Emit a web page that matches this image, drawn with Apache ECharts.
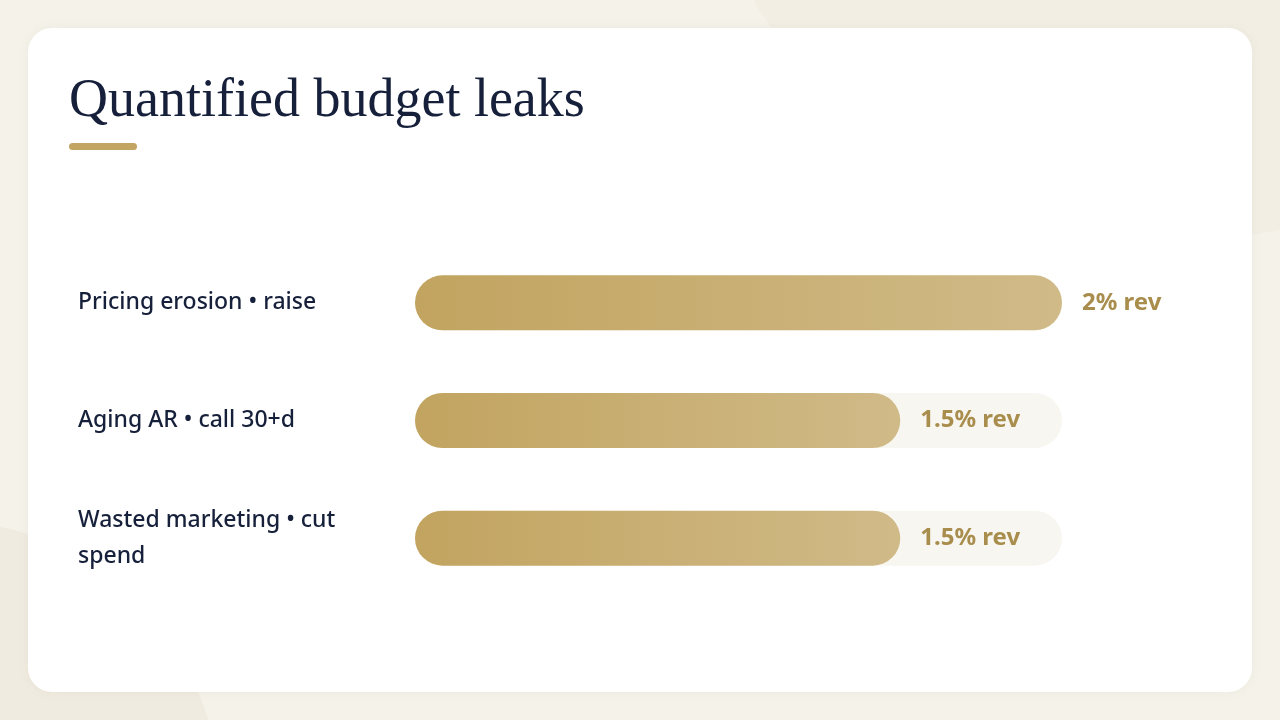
<!DOCTYPE html>
<html>
<head>
<meta charset="utf-8">
<title>Quantified budget leaks</title>
<script src="https://cdn.jsdelivr.net/npm/echarts@6/dist/echarts.min.js"></script>
<style>
    html, body { margin: 0; padding: 0; background: #f5f2ea; }
    #chart { width: 1280px; height: 720px; }
</style>
</head>
<body>
<div id="chart"></div>
<script>
    // data
    var categories = ['Pricing erosion • raise', 'Aging AR • call 30+d', 'Wasted marketing • cut spend'];
    var leakValues = [2, 1.5, 1.5];
    var valueLabels = ['2% rev', '1.5% rev', '1.5% rev'];
    var axisMax = 2;

    var myChart = echarts.init(document.getElementById('chart'));

    var option = {
        backgroundColor: '#f5f2ea',
        animation: false,
        graphic: [
            // soft background blobs
            { type: 'circle', z: -30, shape: { cx: 1180, cy: -260, r: 500 }, style: { fill: '#f2eee4' } },
            { type: 'circle', z: -30, shape: { cx: -60, cy: 800, r: 280 }, style: { fill: '#f0ebe0' } },
            // white card
            {
                type: 'rect', z: -20,
                shape: { x: 28, y: 28, width: 1224, height: 664, r: 24 },
                style: { fill: '#ffffff', shadowBlur: 12, shadowColor: 'rgba(120,100,60,0.06)' }
            },
            {
                type: 'text', z: -10, left: 69, top: 75,
                style: {
                    text: 'Quantified budget leaks',
                    fill: '#16203a',
                    font: '54px "Liberation Serif", "DejaVu Serif", serif'
                }
            },
            // gold rule under the title
            {
                type: 'rect', z: -10,
                shape: { x: 69, y: 143, width: 68, height: 7, r: 3.5 },
                style: { fill: '#c2a562' }
            }
        ],
        grid: {
            left: 415,
            right: 218,
            top: 244,
            bottom: 123,
            containLabel: false
        },
        xAxis: {
            type: 'value',
            min: 0,
            max: axisMax,
            show: false
        },
        yAxis: {
            type: 'category',
            data: categories,
            inverse: true,
            axisLine: { show: false },
            axisTick: { show: false },
            splitLine: { show: false },
            axisLabel: {
                margin: 337,
                align: 'left',
                width: 290,
                overflow: 'break',
                color: '#16203a',
                fontFamily: '"Noto Sans", Lato, sans-serif',
                fontSize: 23,
                fontWeight: 500,
                lineHeight: 36,
                padding: [6, 0, 0, 0]
            }
        },
        series: [
            {
                name: 'leak',
                type: 'bar',
                data: leakValues,
                barWidth: 55,
                showBackground: true,
                backgroundStyle: {
                    color: '#f8f6f0',
                    borderRadius: 27.5
                },
                itemStyle: {
                    borderRadius: 27.5,
                    color: new echarts.graphic.LinearGradient(0, 0, 1, 0, [
                        { offset: 0, color: '#c2a460' },
                        { offset: 1, color: '#d0ba88' }
                    ])
                },
                label: {
                    show: true,
                    position: 'right',
                    distance: 20,
                    color: '#a88d4c',
                    fontFamily: '"Noto Sans", Lato, sans-serif',
                    fontSize: 24,
                    fontWeight: 'bold',
                    padding: [6, 0, 0, 0],
                    formatter: function (p) { return valueLabels[p.dataIndex]; }
                }
            }
        ]
    };

    myChart.setOption(option);
</script>
</body>
</html>
